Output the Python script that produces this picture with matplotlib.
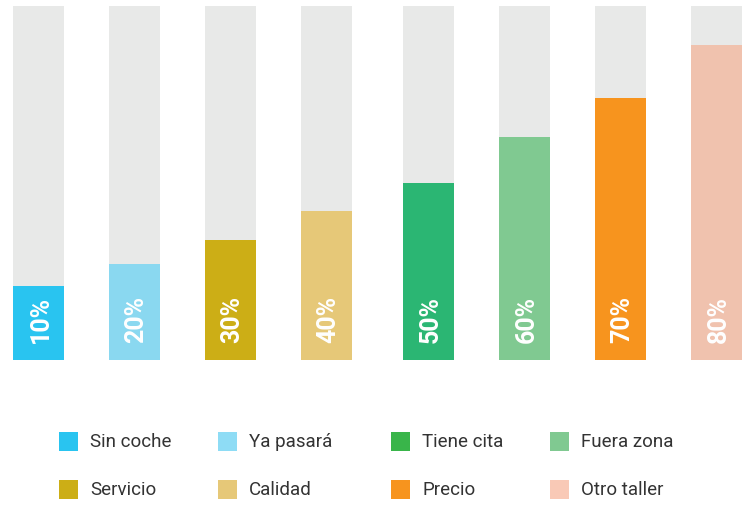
import matplotlib.pyplot as plt
from matplotlib.patches import Rectangle

plt.rcParams['font.family'] = ['Roboto', 'DejaVu Sans']

labels = ["Sin coche", "Ya pasará", "Servicio", "Calidad",
          "Tiene cita", "Fuera zona", "Precio", "Otro taller"]
values = [21, 27, 34, 42, 50, 63, 74, 89]
pct_labels = ["10%", "20%", "30%", "40%", "50%", "60%", "70%", "80%"]
colors = ["#29C4F0", "#8AD8F0", "#CCAE16", "#E6C878",
          "#2BB673", "#80C991", "#F7941E", "#F0C2AE"]
legend_colors = ["#29C4F0", "#8EDCF5", "#CCAE16", "#E6C878",
                 "#39B54A", "#80C991", "#F7941E", "#F9C9B6"]

W, H = 749, 506
fig = plt.figure(figsize=(W / 100, H / 100), dpi=100)

pitch = 96.0
x0 = 38.5
gap = 6 / pitch  # slightly wider gap between the two groups of four
ax = fig.add_axes([0, (H - 361) / H, 1, (361 - 7) / H])
ax.set_xlim(-x0 / pitch, (W - x0) / pitch)
ax.set_ylim(0, 100)
ax.axis("off")

xs = [i + (gap if i >= 4 else 0) for i in range(len(values))]
bw = 51 / pitch
ax.bar(xs, [100] * len(xs), width=bw, color="#E8E9E8")
ax.bar(xs, values, width=bw, color=colors)
for x, t in zip(xs, pct_labels):
    ax.text(x + 2 / pitch, 5, t, rotation=90, ha="center", va="bottom",
            color="white", fontsize=18, fontweight="bold")

# legend, laid out as in the reference: pairs of columns
col_x = [59, 218, 391, 550]
row_y = [442, 490]
order = [(0, 0, 0), (1, 1, 0), (2, 0, 1), (3, 1, 1),
         (4, 2, 0), (5, 3, 0), (6, 2, 1), (7, 3, 1)]
sq = 19
for i, c, r in order:
    px, py = col_x[c], row_y[r]
    fig.add_artist(Rectangle((px / W, (H - py - sq / 2) / H), sq / W, sq / H,
                             transform=fig.transFigure,
                             color=legend_colors[i], lw=0))
    fig.text((px + 31) / W, (H - py) / H, labels[i], ha="left", va="center",
             fontsize=13.5, color="#333333")

fig.savefig("out.png", dpi=100)
